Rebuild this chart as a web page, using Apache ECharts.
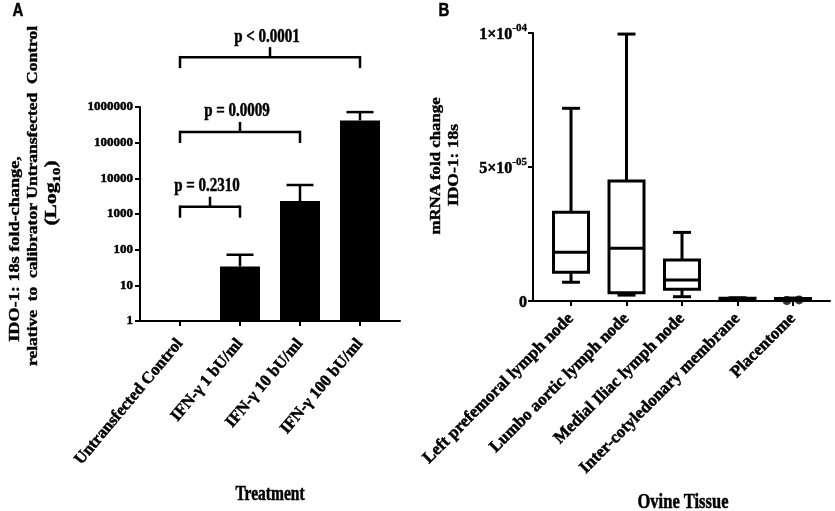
<!DOCTYPE html>
<html><head><meta charset="utf-8">
<script src="https://cdn.jsdelivr.net/npm/echarts@6/dist/echarts.min.js"></script>
<style>html,body{margin:0;padding:0;background:#fff}#c{width:835px;height:511px}</style>
</head><body><div id="c"></div>
<script>
// ---- Panel A data ----
const treatments = ['Untransfected Control', 'IFN-γ 1 bU/ml', 'IFN-γ 10 bU/ml', 'IFN-γ 100 bU/ml'];
const foldMean = [1, 34, 2300, 420000];
const foldUpper = [1, 72, 6500, 720000];
const yTicksA = [1, 10, 100, 1000, 10000, 100000, 1000000];
const pFrom = [0, 0, 0];
const pTo = [1, 2, 3];
const pLevel = [1600, 200000, 25000000];
const pLabels = ['p = 0.2310', 'p = 0.0009', 'p < 0.0001'];

// ---- Panel B data ----
const tissues = ['Left prefemoral lymph node', 'Lumbo aortic lymph node', 'Medial Iliac lymph node', 'Inter-cotyledonary membrane', 'Placentome'];
const boxMin = [0.70e-5, 0.22e-5, 0.16e-5, 0.02e-5, 0.02e-5];
const boxQ1 = [1.07e-5, 0.31e-5, 0.44e-5, 0.04e-5, 0.03e-5];
const boxMedian = [1.82e-5, 1.97e-5, 0.78e-5, 0.06e-5, 0.05e-5];
const boxQ3 = [3.31e-5, 4.48e-5, 1.53e-5, 0.10e-5, 0.09e-5];
const boxMax = [7.19e-5, 9.96e-5, 2.56e-5, 0.12e-5, 0.11e-5];
const placentomePoints = [0.02e-5, 0.04e-5];
const yTickMainB = ['0', '5×10', '1×10'];
const yTickSupB = ['', '-05', '-04'];

const SERIF = '"Liberation Serif", "Times New Roman", serif';
const BLACK = '#000';
const HEAVY = {textBorderColor: BLACK, textBorderWidth: 0.5};

const chart = echarts.init(document.getElementById('c'), null, {renderer: 'canvas'});

const axisLineStyle = {show: true, onZero: false, lineStyle: {color: BLACK, width: 2}};
const tickStyle = {show: true, length: 5, lineStyle: {color: BLACK, width: 2}};

function txt(text, x, y, opts) {
  opts = opts || {};
  return {
    type: 'text', x: x, y: y,
    rotation: opts.rotation || 0,
    scaleX: opts.scaleX || 1, scaleY: opts.scaleY || 1,
    style: {
      text: text, x: 0, y: 0,
      fill: BLACK,
      stroke: BLACK, lineWidth: 0.4,
      fontSize: opts.fontSize || 14,
      fontWeight: 'bold',
      fontFamily: opts.fontFamily || SERIF,
      align: 'center', verticalAlign: 'middle',
      textAlign: 'center', textVerticalAlign: 'middle',
      rich: opts.rich
    }
  };
}

const option = {
  animation: false,
  backgroundColor: '#fff',
  grid: [
    {left: 140, top: 107, width: 260, height: 214, containLabel: false, outerBoundsMode: 'none'},
    {left: 533, top: 33, width: 297, height: 268, containLabel: false, outerBoundsMode: 'none'}
  ],
  xAxis: [
    {
      gridIndex: 0, type: 'value', min: -0.6667, max: 3.6667,
      axisLine: axisLineStyle,
      axisTick: Object.assign({customValues: [0, 1, 2, 3]}, tickStyle),
      splitLine: {show: false},
      axisLabel: Object.assign({
        customValues: [0, 1, 2, 3],
        rotate: 50, margin: 20,
        color: BLACK, fontSize: 16.5, fontWeight: 'bold', fontFamily: SERIF,
        formatter: function (v) { const i = Math.round(v); return Math.abs(v - i) < 1e-6 && treatments[i] ? treatments[i] : ''; }
      }, HEAVY)
    },
    {
      gridIndex: 1, type: 'value', min: -0.685, max: 4.667,
      axisLine: axisLineStyle,
      axisTick: Object.assign({customValues: [0, 1, 2, 3, 4]}, tickStyle),
      splitLine: {show: false},
      axisLabel: Object.assign({
        customValues: [0, 1, 2, 3, 4],
        rotate: 45, margin: 15,
        color: BLACK, fontSize: 17, fontWeight: 'bold', fontFamily: SERIF,
        formatter: function (v) { const i = Math.round(v); return Math.abs(v - i) < 1e-6 && tissues[i] ? tissues[i] : ''; }
      }, HEAVY)
    }
  ],
  yAxis: [
    {
      gridIndex: 0, type: 'log', logBase: 10, min: 1, max: 1000000,
      axisLine: axisLineStyle,
      axisTick: Object.assign({customValues: yTicksA}, tickStyle),
      splitLine: {show: false},
      minorTick: {show: false},
      axisLabel: Object.assign({
        customValues: yTicksA,
        margin: 7, color: BLACK, fontSize: 13, fontWeight: 'bold', fontFamily: SERIF,
        formatter: function (v) { return String(Math.round(v)); }
      }, HEAVY)
    },
    {
      gridIndex: 1, type: 'value', min: 0, max: 0.0001, interval: 0.00005,
      axisLine: axisLineStyle,
      axisTick: tickStyle,
      splitLine: {show: false},
      axisLabel: {
        margin: 6, color: BLACK, fontSize: 16, fontWeight: 'bold', fontFamily: SERIF,
        formatter: function (v) {
          const i = Math.round(v / 0.00005);
          return '{m|' + yTickMainB[i] + '}' + (yTickSupB[i] ? '{sup|' + yTickSupB[i] + '}' : '');
        },
        rich: {
          m: Object.assign({fontSize: 16, fontWeight: 'bold', fontFamily: SERIF, color: BLACK, lineHeight: 20, verticalAlign: 'bottom'}, HEAVY),
          sup: Object.assign({fontSize: 11, fontWeight: 'bold', fontFamily: SERIF, color: BLACK, lineHeight: 20, verticalAlign: 'top'}, {textBorderColor: BLACK, textBorderWidth: 0.3})
        }
      }
    }
  ],
  graphic: [
    txt('A', 18, 11, {fontFamily: '"Liberation Sans", Arial, sans-serif', fontSize: 15, scaleY: 1.2}),
    txt('B', 444, 11, {fontFamily: '"Liberation Sans", Arial, sans-serif', fontSize: 15, scaleY: 1.2}),
    txt('IDO-1: 18s fold-change,', 15, 249, {rotation: Math.PI / 2, scaleX: 1.3, fontSize: 14}),
    txt('relative  to  calibrator Untransfected  Control', 33, 196, {rotation: Math.PI / 2, scaleX: 1.25, fontSize: 14}),
    txt('(Log{sub|10})', 52, 193, {rotation: Math.PI / 2, scaleX: 1.35, fontSize: 16,
      rich: {sub: {fontSize: 11, fontWeight: 'bold', fontFamily: SERIF, fill: BLACK, verticalAlign: 'bottom', lineHeight: 22, padding: [7, 0, 0, 0]}}}),
    txt('mRNA fold change', 436, 166, {rotation: Math.PI / 2, scaleX: 1.2, fontSize: 14}),
    txt('IDO-1: 18s', 454, 165, {rotation: Math.PI / 2, scaleX: 1.25, fontSize: 14}),
    txt('Treatment', 270, 495, {scaleY: 1.3, fontSize: 15.5}),
    txt('Ovine Tissue', 683, 502, {scaleY: 1.3, fontSize: 16.5})
  ],
  series: [
    {
      type: 'bar', xAxisIndex: 0, yAxisIndex: 0,
      barWidth: 40,
      itemStyle: {color: BLACK},
      data: treatments.map(function (t, i) { return [i, foldMean[i]]; })
    },
    {
      type: 'custom', xAxisIndex: 0, yAxisIndex: 0, clip: false,
      data: treatments.map(function (t, i) { return [i, foldMean[i], foldUpper[i]]; }),
      renderItem: function (params, api) {
        const x = api.value(0), m = api.value(1), u = api.value(2);
        if (!(u > m)) return null;
        const p0 = api.coord([x, m]), p1 = api.coord([x, u]);
        const s = {stroke: BLACK, lineWidth: 2.5};
        return {type: 'group', children: [
          {type: 'line', shape: {x1: p0[0], y1: p0[1], x2: p1[0], y2: p1[1]}, style: s},
          {type: 'line', shape: {x1: p1[0] - 13.5, y1: p1[1], x2: p1[0] + 13.5, y2: p1[1]}, style: s}
        ]};
      }
    },
    {
      type: 'custom', xAxisIndex: 0, yAxisIndex: 0, clip: false,
      data: pLabels.map(function (l, i) { return [pFrom[i], pTo[i], pLevel[i]]; }),
      renderItem: function (params, api) {
        const a = api.coord([api.value(0), api.value(2)]);
        const b = api.coord([api.value(1), api.value(2)]);
        const y = a[1], mid = (a[0] + b[0]) / 2;
        const s = {stroke: BLACK, lineWidth: 2.5};
        return {type: 'group', children: [
          {type: 'line', shape: {x1: a[0], y1: y, x2: b[0], y2: y}, style: s},
          {type: 'line', shape: {x1: a[0], y1: y - 1.2, x2: a[0], y2: y + 11}, style: s},
          {type: 'line', shape: {x1: b[0], y1: y - 1.2, x2: b[0], y2: y + 11}, style: s},
          {type: 'line', shape: {x1: mid, y1: y, x2: mid, y2: y - 10}, style: s},
          {type: 'text', x: mid - 3, y: y - 11, scaleY: 1.25,
            style: {text: pLabels[params.dataIndex], x: 0, y: 0, fill: BLACK,
              stroke: BLACK, lineWidth: 0.4,
              fontSize: 15, fontWeight: 'bold', fontFamily: SERIF,
              align: 'center', verticalAlign: 'bottom', textAlign: 'center', textVerticalAlign: 'bottom'}}
        ]};
      }
    },
    {
      type: 'custom', xAxisIndex: 1, yAxisIndex: 1, clip: false,
      data: tissues.map(function (t, i) { return [i, boxMin[i], boxQ1[i], boxMedian[i], boxQ3[i], boxMax[i]]; }),
      renderItem: function (params, api) {
        const x = api.value(0);
        const pMin = api.coord([x, api.value(1)]);
        const pQ1 = api.coord([x, api.value(2)]);
        const pMed = api.coord([x, api.value(3)]);
        const pQ3 = api.coord([x, api.value(4)]);
        const pMax = api.coord([x, api.value(5)]);
        const cx = pMed[0], hw = 17.5, cw = 9;
        const s = {stroke: BLACK, lineWidth: 3, fill: null};
        const h = Math.max(pQ1[1] - pQ3[1], 1);
        return {type: 'group', children: [
          {type: 'line', shape: {x1: cx, y1: pQ3[1], x2: cx, y2: pMax[1]}, style: s},
          {type: 'line', shape: {x1: cx, y1: pQ1[1], x2: cx, y2: pMin[1]}, style: s},
          {type: 'line', shape: {x1: cx - cw, y1: pMax[1], x2: cx + cw, y2: pMax[1]}, style: s},
          {type: 'line', shape: {x1: cx - cw, y1: pMin[1], x2: cx + cw, y2: pMin[1]}, style: s},
          {type: 'rect', shape: {x: cx - hw, y: pQ3[1], width: 2 * hw, height: h}, style: {stroke: BLACK, lineWidth: 3, fill: '#fff'}},
          {type: 'line', shape: {x1: cx - hw, y1: pMed[1], x2: cx + hw, y2: pMed[1]}, style: s}
        ]};
      }
    },
    {
      type: 'scatter', xAxisIndex: 1, yAxisIndex: 1, clip: false,
      symbol: 'circle', symbolSize: 9,
      itemStyle: {color: BLACK},
      data: placentomePoints.map(function (v, i) { return [4 + (i - 0.5) * 0.22, v]; })
    }
  ]
};
chart.setOption(option);
</script>
</body></html>
